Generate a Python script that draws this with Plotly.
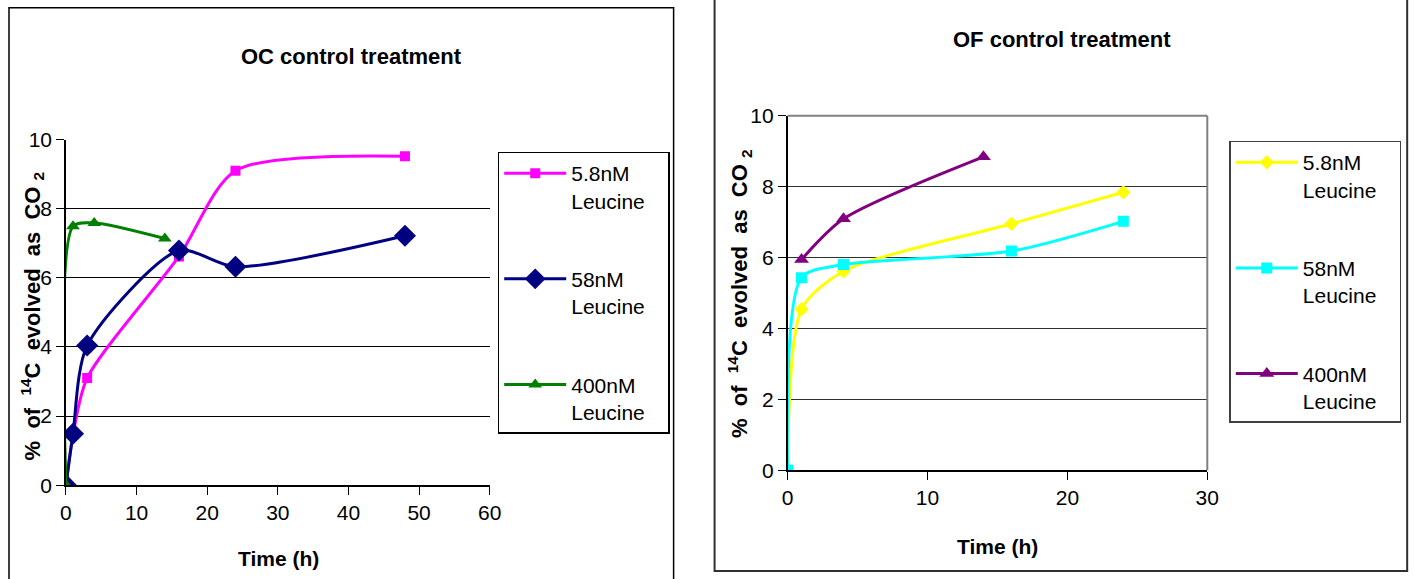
import plotly.graph_objects as go

# ---------------- data ----------------
oc_58_x = [0, 1, 3, 16, 24, 48]
oc_58_y = [0, 1.45, 3.1, 6.62, 9.1, 9.52]
oc_580_x = [0, 1, 3, 16, 24, 48]
oc_580_y = [0, 1.49, 4.04, 6.79, 6.32, 7.22]
oc_400_x = [0, 1, 4, 14]
oc_400_y = [0, 7.49, 7.59, 7.14]

of_58_x = [0, 1, 4, 16, 24]
of_58_y = [0, 4.54, 5.61, 6.95, 7.84]
of_580_x = [0, 1, 4, 16, 24]
of_580_y = [0, 5.43, 5.80, 6.18, 7.02]
of_400_x = [1, 4, 14]
of_400_y = [5.94, 7.09, 8.84]

series_names = ["5.8nM<br>Leucine", "58nM<br>Leucine", "400nM<br>Leucine"]
left_title = "OC control treatment"
right_title = "OF control treatment"
x_title = "Time (h)"
NB = "\u00a0"
y_title = f"%{NB}{NB}of{NB}{NB}<sup>14</sup>C{NB}{NB}evolved{NB}{NB}as{NB}{NB}CO{NB}<sub>2</sub>"

W, H = 1431, 601
FONT = "Liberation Sans Narrow, Arial Narrow, Liberation Sans, Arial"
BFONT = "Liberation Sans, Arial"


def px(x):
    return ((x - 5.0) / 0.988) / W


def py(y):
    return 1 - ((y - 10.2) / 0.963) / H


fig = go.Figure()

left = [
    (oc_58_x, oc_58_y, "#FF00FF", "square", 10),
    (oc_580_x, oc_580_y, "#000080", "diamond", 17),
    (oc_400_x, oc_400_y, "#008000", "triangle-up", 12),
]
right = [
    (of_58_x, of_58_y, "#FFFF00", "diamond", 11),
    (of_580_x, of_580_y, "#00FFFF", "square", 11),
    (of_400_x, of_400_y, "#800080", "triangle-up", 13),
]

SM = 0.75
for i, (xs, ys, col, sym, sz) in enumerate(left):
    fig.add_trace(go.Scatter(
        x=xs, y=ys, mode="lines+markers", name=series_names[i] + NB * 3,
        line=dict(color=col, width=3, shape="spline", smoothing=SM),
        marker=dict(color=col, symbol=sym, size=sz),
        xaxis="x", yaxis="y", legend="legend", legendgroup=f"l{i}",
    ))
for i, (xs, ys, col, sym, sz) in enumerate(right):
    fig.add_trace(go.Scatter(
        x=xs, y=ys, mode="lines+markers", name=series_names[i] + NB * 3,
        line=dict(color=col, width=3, shape="spline", smoothing=SM),
        marker=dict(color=col, symbol=sym, size=sz),
        xaxis="x2", yaxis="y2", legend="legend2", legendgroup=f"r{i}",
    ))

tickfont = dict(family=FONT, size=21, color="black")

axis_common = dict(showline=True, linecolor="black", linewidth=1.5,
                   ticks="outside", ticklen=8, tickcolor="black", tickwidth=1,
                   tickfont=tickfont, zeroline=False)

legend_common = dict(xanchor="left", yanchor="top", borderwidth=1.5, bgcolor="white",
                     font=dict(family=FONT, size=21, color="black"),
                     itemwidth=62, tracegroupgap=48, valign="top")

fig.update_layout(
    width=W, height=H,
    margin=dict(l=0, r=0, t=0, b=0),
    paper_bgcolor="white", plot_bgcolor="white",
    showlegend=True,
    xaxis=dict(domain=[px(65), px(489)], range=[0, 60], dtick=10,
               showgrid=False, anchor="y", **axis_common),
    yaxis=dict(domain=[py(484), py(138)], range=[0, 10], dtick=2,
               showgrid=True, gridcolor="black", gridwidth=1,
               anchor="x", **axis_common),
    xaxis2=dict(domain=[px(787), px(1207)], range=[0, 30], dtick=10,
                showgrid=False, anchor="y2", **axis_common),
    yaxis2=dict(domain=[py(469), py(114)], range=[0, 10], dtick=2,
                showgrid=True, gridcolor="#303030", gridwidth=1,
                anchor="x2", **axis_common),
    legend=dict(x=px(497), y=py(150), bordercolor="black", **legend_common),
    legend2=dict(x=px(1229), y=py(139), bordercolor="#404040", **legend_common),
)

shapes = [
    # panel borders
    dict(type="rect", xref="paper", yref="paper", x0=px(8), x1=px(673),
         y0=py(590), y1=py(6), line=dict(color="black", width=1.5)),
    dict(type="rect", xref="paper", yref="paper", x0=px(714), x1=px(1407),
         y0=py(570), y1=py(-8), line=dict(color="#303030", width=2)),
    # right plot area border (top & right)
    dict(type="line", xref="x2 domain", yref="y2 domain", x0=0, x1=1, y0=1, y1=1,
         line=dict(color="#808080", width=2)),
    dict(type="line", xref="x2 domain", yref="y2 domain", x0=1, x1=1, y0=0, y1=1,
         line=dict(color="#808080", width=2)),
]
fig.update_layout(shapes=shapes)


def note(text, x, y, size, angle=0, family=BFONT):
    return dict(text=text, x=px(x), y=py(y), xref="paper", yref="paper",
                xanchor="center", yanchor="middle", showarrow=False,
                textangle=angle, font=dict(family=family, size=size, color="black"))


ann = [
    note(f"<b>{left_title}</b>", 351, 55, 22),
    note(f"<b>{right_title}</b>", 1062, 38, 22),
    note(f"<b>{x_title}</b>", 278, 557, 21),
    note(f"<b>{x_title}</b>", 997, 545, 21),
    note(f"<b>{y_title}</b>", 31, 314, 22, -90),
    note(f"<b>{y_title}</b>", 739, 292, 22, -90),
]
fig.update_layout(annotations=ann)

fig.write_html(
    "out.html",
    config={"displayModeBar": False},
    post_script="document.body.style.margin='0';document.body.style.padding='0';"
                "document.body.style.overflow='hidden';",
)
